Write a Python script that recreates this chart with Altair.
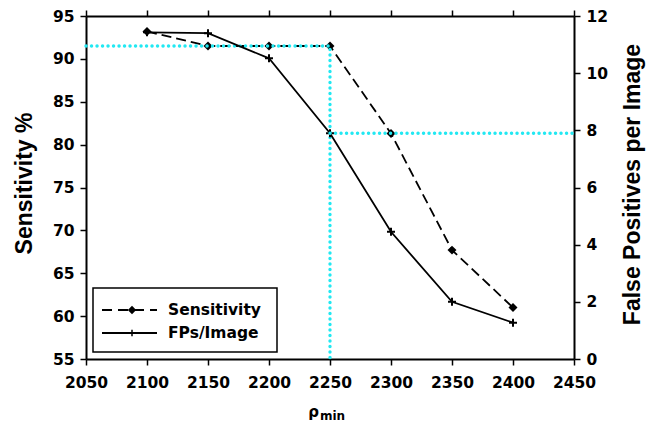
import altair as alt
import pandas as pd

rho = [2100, 2150, 2200, 2250, 2300, 2350, 2400]
sensitivity = [93.2, 91.5, 91.5, 91.5, 81.3, 67.7, 61.0]
fps = [11.43, 11.4, 10.52, 7.9, 4.45, 2.0, 1.27]

# cyan guide lines
guide_rho = 2250
guide_sens = 91.5
guide_fp = 7.9

x_domain = [2050, 2450]
sens_domain = [55, 95]
fp_domain = [0, 12]
legend_labels = ["Sensitivity", "FPs/Image"]

LFONT = "DejaVu Sans"
TFONT = "Liberation Sans"
W, H = 488, 343
CYAN = "#22E8F2"

df = pd.DataFrame({"rho": rho, "sens": sensitivity, "fp": fps})
g_sens = pd.DataFrame({"rho": [x_domain[0], guide_rho, guide_rho],
                       "sens": [guide_sens, guide_sens, sens_domain[0]],
                       "o": [0, 1, 2]})
g_fp = pd.DataFrame({"rho": [guide_rho, x_domain[1]], "fp": [guide_fp, guide_fp], "o": [0, 1]})


def ax(**kw):
    d = dict(labelFont=LFONT, labelFontSize=15.5, labelFontWeight="bold", labelColor="black",
             titleFont=TFONT, titleFontSize=23, titleFontWeight="bold", titleColor="black",
             domainColor="black", domainWidth=2, tickColor="black", tickWidth=1.5,
             tickSize=6, grid=False, labelPadding=6, labelOverlap=False, labelFlush=False)
    d.update(kw)
    return alt.Axis(**d)


xb = alt.X("rho:Q", scale=alt.Scale(domain=x_domain, nice=False, zero=False),
           axis=ax(values=list(range(2050, 2451, 50)), format="d", title=None,
                   orient="bottom", labelPadding=10))
xt = alt.X("rho:Q", scale=alt.Scale(domain=x_domain, nice=False, zero=False),
           axis=ax(values=list(range(2050, 2451, 50)), labels=False, title=None, orient="top"))
ys = alt.Y("sens:Q", scale=alt.Scale(domain=sens_domain, nice=False, zero=False),
           axis=ax(values=list(range(55, 96, 5)), title="Sensitivity %", orient="left",
                   titleAngle=270, titleAlign="center", titleBaseline="alphabetic",
                   titleX=-55, titleY=167))
yf = alt.Y("fp:Q", scale=alt.Scale(domain=fp_domain, nice=False, zero=False),
           axis=ax(values=list(range(0, 13, 2)), title="False Positives per Image",
                   orient="right", titleAngle=270, titleAlign="center", titleBaseline="alphabetic",
                   titleX=65, titleY=168))

base = alt.Chart(df)
sens_line = base.mark_line(color="black", strokeWidth=1.8, strokeDash=[10, 5]).encode(x=xb, y=ys)
sens_pts = base.mark_point(shape="diamond", filled=True, color="black", size=80, opacity=1).encode(x=xb, y=ys)
cyan1 = alt.Chart(g_sens).mark_line(color=CYAN, strokeWidth=3.4, strokeDash=[0.1, 5.4],
                                    strokeCap="round").encode(x=xb, y=ys, order="o:Q")

plus = "M-1,0L1,0M0,-1L0,1"
fp_line = base.mark_line(color="black", strokeWidth=1.8).encode(x=xt, y=yf)
fp_pts = base.mark_point(shape=plus, filled=False, color="black", size=64, strokeWidth=2,
                         opacity=1).encode(x=xt, y=yf)
cyan2 = alt.Chart(g_fp).mark_line(color=CYAN, strokeWidth=3.4, strokeDash=[0.1, 5.4],
                                  strokeCap="round").encode(x=xt, y=yf, order="o:Q")

# legend (drawn manually in pixel space)
one = pd.DataFrame({"a": [0]})
lx0, ly0 = 7, 272
box = alt.Chart(one).mark_rect(fill="white", stroke="black", strokeWidth=1.5).encode(
    x=alt.value(lx0), x2=alt.value(lx0 + 184), y=alt.value(ly0), y2=alt.value(ly0 + 64))
leg1_line = alt.Chart(one).mark_rule(color="black", strokeWidth=1.8, strokeDash=[10, 6]).encode(
    x=alt.value(lx0 + 9), x2=alt.value(lx0 + 64), y=alt.value(ly0 + 22))
leg1_pt = alt.Chart(one).mark_point(shape="diamond", filled=True, color="black", size=70, opacity=1).encode(
    x=alt.value(lx0 + 39), y=alt.value(ly0 + 22))
leg2_line = alt.Chart(one).mark_rule(color="black", strokeWidth=1.8).encode(
    x=alt.value(lx0 + 9), x2=alt.value(lx0 + 64), y=alt.value(ly0 + 45))
leg2_pt = alt.Chart(one).mark_point(shape=plus, filled=False, color="black", size=40,
                                    strokeWidth=1.5, opacity=1).encode(
    x=alt.value(lx0 + 39), y=alt.value(ly0 + 45))
leg_text1 = alt.Chart(pd.DataFrame({"label": [legend_labels[0]]})).mark_text(
    font=LFONT, fontSize=15.5, fontWeight="bold", align="left", baseline="middle", color="black").encode(
    text="label:N", x=alt.value(lx0 + 75), y=alt.value(ly0 + 22))
leg_text2 = alt.Chart(pd.DataFrame({"label": [legend_labels[1]]})).mark_text(
    font=LFONT, fontSize=15.5, fontWeight="bold", align="left", baseline="middle", color="black").encode(
    text="label:N", x=alt.value(lx0 + 75), y=alt.value(ly0 + 45))

# x title with subscript
xt_rho = alt.Chart(pd.DataFrame({"t": ["ρ"]})).mark_text(font=LFONT, fontSize=15, fontWeight="bold",
                                                          align="right", baseline="alphabetic", color="black").encode(
    text="t:N", x=alt.value(233), y=alt.value(401))
xt_min = alt.Chart(pd.DataFrame({"t": ["min"]})).mark_text(font=LFONT, fontSize=12, fontWeight="bold",
                                                            align="left", baseline="alphabetic", color="black").encode(
    text="t:N", x=alt.value(234), y=alt.value(404))

left = alt.layer(sens_line, sens_pts, box, leg1_line, leg1_pt, leg2_line, leg2_pt, leg_text1, leg_text2,
                 xt_rho, xt_min, cyan1)
right = alt.layer(fp_line, fp_pts, cyan2)

chart = alt.layer(left, right).resolve_scale(y="independent", x="independent").properties(
    width=W, height=H,
    background="white",
    autosize=alt.AutoSizeParams(type="none"),
    padding={"left": 78, "top": 8, "right": 72, "bottom": 64},
).configure_view(stroke=None)

chart.save("out.html", embed_options={"renderer": "svg", "actions": False})
